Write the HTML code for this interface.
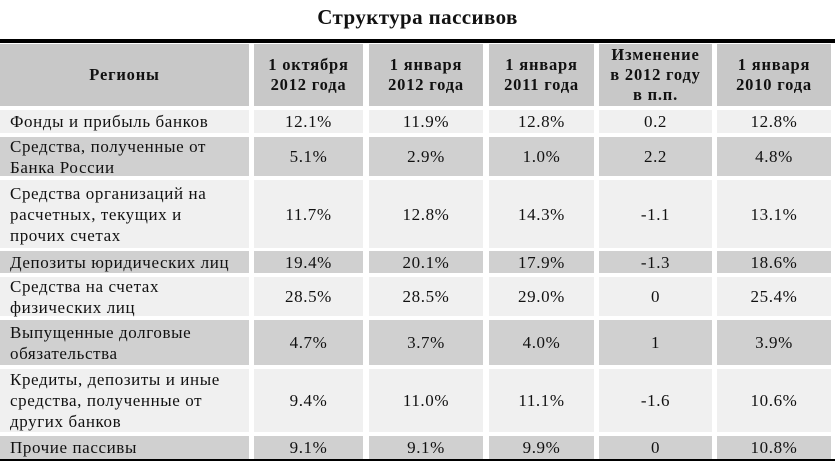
<!DOCTYPE html>
<html><head><meta charset="utf-8">
<style>
body{margin:0;width:835px;height:461px;background:#fff;overflow:hidden;position:relative;font-family:"Liberation Serif",serif;color:#111}
.c{position:absolute;display:flex;align-items:center;justify-content:center;text-align:center;font-size:17px;letter-spacing:0.6px;line-height:21px;box-sizing:border-box}
.l{justify-content:flex-start;text-align:left;padding-left:10px}
.h{font-weight:bold;background:#c8c8c8;line-height:20px;font-size:16.5px;letter-spacing:0.8px}
.title{position:absolute;left:0;width:835px;top:5px;text-align:center;font-weight:bold;font-size:21px;letter-spacing:0.4px}
.bar{position:absolute;left:0;width:835px;background:#000}
</style></head><body>
<div class="title">Структура пассивов</div>
<div class="bar" style="top:39px;height:4px"></div>
<div class="bar" style="top:459px;height:2px"></div>
<div id="t"></div>
<script>
const cols=[[0,249],[254,363],[369,483],[489,594],[599,712],[717,831]];
const headers=["Регионы","1 октября<br>2012 года","1 января<br>2012 года","1 января<br>2011 года","Изменение<br>в 2012 году<br>в п.п.","1 января<br>2010 года"];
const labels=["Фонды и прибыль банков","Средства, полученные от<br>Банка России","Средства организаций на<br>расчетных, текущих и<br>прочих счетах","Депозиты юридических лиц","Средства на счетах<br>физических лиц","Выпущенные долговые<br>обязательства","Кредиты, депозиты и иные<br>средства, полученные от<br>других банков","Прочие пассивы"];
const oct2012=["12.1%","5.1%","11.7%","19.4%","28.5%","4.7%","9.4%","9.1%"];
const jan2012=["11.9%","2.9%","12.8%","20.1%","28.5%","3.7%","11.0%","9.1%"];
const jan2011=["12.8%","1.0%","14.3%","17.9%","29.0%","4.0%","11.1%","9.9%"];
const change=["0.2","2.2","-1.1","-1.3","0","1","-1.6","0"];
const jan2010=["12.8%","4.8%","13.1%","18.6%","25.4%","3.9%","10.6%","10.8%"];
const rows=[[110,133],[137,176],[180,248],[251,273],[277,316],[320,365],[369,432],[436,459]];
const t=document.getElementById('t');
function cell(x0,x1,y0,y1,html,cls,bg){const d=document.createElement('div');d.className='c '+cls;d.style.left=x0+'px';d.style.width=(x1-x0)+'px';d.style.top=y0+'px';d.style.height=(y1-y0)+'px';if(bg)d.style.background=bg;d.innerHTML=html;t.appendChild(d);return d;}
headers.forEach((h,i)=>{const d=cell(cols[i][0],cols[i][1],44,106,h,'h');

});
const data=[labels,oct2012,jan2012,jan2011,change,jan2010];
rows.forEach((r,ri)=>{const bg=ri%2?'#d0d0d0':'#f0f0f0';
data.forEach((col,ci)=>{const d=cell(cols[ci][0],cols[ci][1],r[0],r[1],col[ri],ci==0?'l':'',bg);

});});
</script>
</body></html>
